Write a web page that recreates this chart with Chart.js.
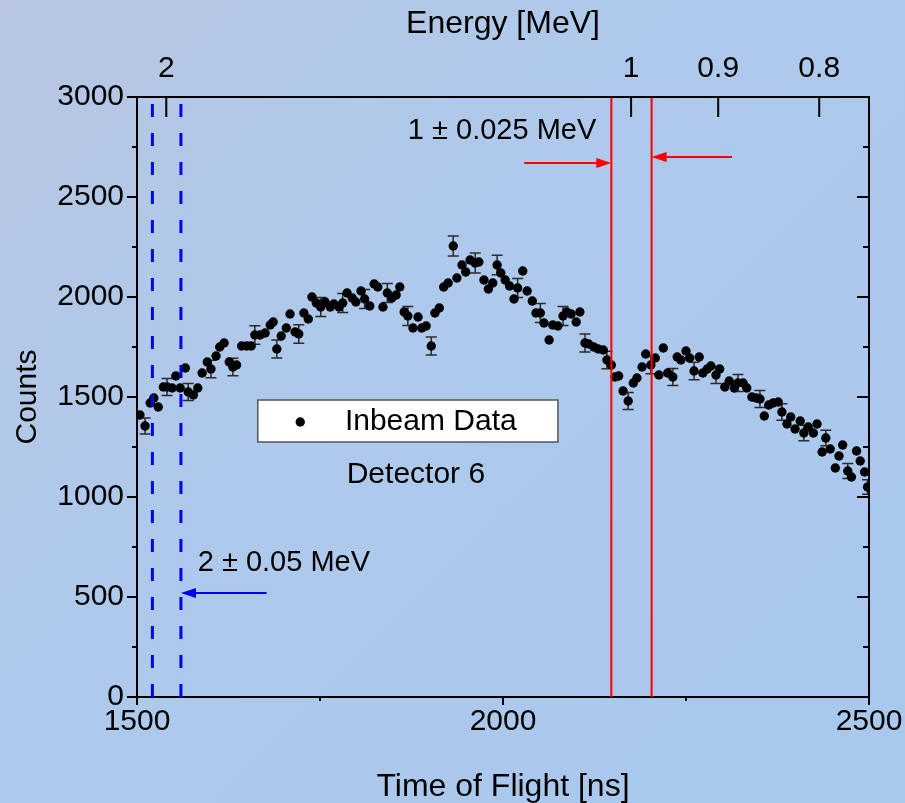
<!DOCTYPE html>
<html>
<head>
<meta charset="utf-8">
<script src="https://cdn.jsdelivr.net/npm/chart.js@4/dist/chart.umd.min.js"></script>
<style>
    html, body { margin: 0; padding: 0; }
    body {
        width: 905px; height: 803px; overflow: hidden;
        background: linear-gradient(135deg, #b8c6e2 0%, #aec9eb 40%, #a8c8ee 100%);
    }
</style>
</head>
<body>
<canvas id="tof-chart" width="905" height="803"></canvas>
<script>
// time of flight [ns] and counts
const tof = [
    1504, 1511, 1518, 1523, 1529, 1536, 1541, 1548, 1553, 1559,
    1566, 1570, 1577, 1583, 1589, 1596, 1601, 1608, 1613, 1619,
    1626, 1631, 1636, 1643, 1650, 1656, 1661, 1668, 1675, 1682,
    1686, 1691, 1697, 1704, 1709, 1716, 1721, 1728, 1734, 1739,
    1745, 1751, 1757, 1764, 1769, 1776, 1781, 1787, 1794, 1799,
    1806, 1811, 1818, 1824, 1829, 1836, 1842, 1848, 1854, 1859,
    1865, 1870, 1877, 1884, 1889, 1895, 1902, 1907, 1913, 1919,
    1925, 1932, 1937, 1944, 1949, 1955, 1962, 1967, 1974, 1980,
    1986, 1992, 1997, 2003, 2009, 2015, 2020, 2027, 2033, 2040,
    2045, 2051, 2056, 2063, 2068, 2075, 2082, 2087, 2093, 2100,
    2105, 2112, 2117, 2124, 2130, 2137, 2142, 2148, 2153, 2158,
    2164, 2171, 2178, 2183, 2190, 2195, 2202, 2208, 2213, 2219,
    2225, 2232, 2238, 2243, 2250, 2255, 2261, 2268, 2273, 2279,
    2284, 2291, 2296, 2303, 2309, 2316, 2321, 2328, 2333, 2340,
    2346, 2351, 2357, 2363, 2369, 2376, 2381, 2388, 2393, 2399,
    2406, 2411, 2417, 2424, 2429, 2436, 2441, 2447, 2454, 2459,
    2464, 2471, 2476, 2483, 2488, 2494, 2498
];
const counts = [
    1410, 1355, 1470, 1495, 1450, 1550, 1550, 1545, 1605, 1545,
    1645, 1525, 1510, 1545, 1620, 1675, 1640, 1705, 1750, 1770,
    1675, 1650, 1660, 1755, 1755, 1755, 1810, 1810, 1820, 1860,
    1875, 1740, 1805, 1845, 1915, 1825, 1815, 1920, 1890, 2000,
    1970, 1950, 1975, 1950, 1965, 1950, 1970, 2020, 1995, 1975,
    2030, 1990, 1955, 2065, 2050, 1950, 2020, 1995, 2010, 2050,
    1925, 1905, 1845, 1900, 1845, 1855, 1755, 1920, 1945, 2050,
    2070, 2255, 2095, 2160, 2125, 2185, 2170, 2175, 2085, 2040,
    2070, 2160, 2120, 2085, 2055, 1990, 2045, 2130, 2030, 1980,
    1920, 1920, 1870, 1785, 1860, 1855, 1905, 1925, 1915, 1875,
    1925, 1770, 1765, 1750, 1740, 1735, 1685, 1660, 1600, 1605,
    1530, 1480, 1570, 1595, 1650, 1715, 1660, 1695, 1610, 1745,
    1620, 1600, 1700, 1685, 1730, 1695, 1630, 1700, 1620, 1640,
    1655, 1610, 1640, 1550, 1580, 1545, 1570, 1570, 1545, 1500,
    1495, 1490, 1405, 1460, 1470, 1475, 1425, 1365, 1400, 1340,
    1380, 1320, 1350, 1320, 1365, 1225, 1295, 1240, 1145, 1205,
    1260, 1130, 1100, 1230, 1180, 1125, 1050
];
// half length of the error bars, shown on every fifth point (2nd, 7th, 12th ...)
const errHalf = [
    40, 42, 42, 44, 44, 46, 45, 46, 47, 48,
    48, 48, 47, 45, 50, 50, 49, 48, 47, 47,
    45, 44, 42, 44, 43, 44, 43, 42, 42, 41,
    39, 39, 37, 36
];

// top axis: energy [MeV] and the flight time where it sits
const energyLabels = ['2', '1', '0.9', '0.8'];
const energyTof = [1540, 2175, 2294, 2432];

// windows 1 +- 0.025 MeV (red) and 2 +- 0.05 MeV (blue)
const redWindow = [2148, 2203];
const blueWindow = [1521, 1560];

const FONT = "'Liberation Sans', Arial, sans-serif";
Chart.defaults.font.family = FONT;
Chart.defaults.color = '#000';

function arrow(ctx, x1, y1, x2, y2, color) {
    const dir = Math.sign(x2 - x1);
    ctx.strokeStyle = color;
    ctx.fillStyle = color;
    ctx.lineWidth = 2;
    ctx.beginPath();
    ctx.moveTo(x1, y1);
    ctx.lineTo(x2 - dir * 10, y2);
    ctx.stroke();
    ctx.beginPath();
    ctx.moveTo(x2, y2);
    ctx.lineTo(x2 - dir * 15, y2 - 5);
    ctx.lineTo(x2 - dir * 15, y2 + 5);
    ctx.closePath();
    ctx.fill();
}

const overlay = {
    id: 'overlay',
    beforeDatasetsDraw(chart) {
        const { ctx, chartArea: a, scales: { x, y } } = chart;
        ctx.save();
        ctx.beginPath();
        ctx.rect(a.left, a.top, a.right - a.left, a.bottom - a.top);
        ctx.clip();
        ctx.strokeStyle = '#2a2a2a';
        ctx.lineWidth = 1.5;
        let k = 0;
        tof.forEach((t, i) => {
            if (i % 5 !== 1) return;
            const e = errHalf[k++];
            const px = x.getPixelForValue(t);
            const y1 = y.getPixelForValue(counts[i] + e);
            const y2 = y.getPixelForValue(counts[i] - e);
            ctx.beginPath();
            ctx.moveTo(px, y1); ctx.lineTo(px, y2);
            ctx.moveTo(px - 5.5, y1); ctx.lineTo(px + 5.5, y1);
            ctx.moveTo(px - 5.5, y2); ctx.lineTo(px + 5.5, y2);
            ctx.stroke();
        });
        ctx.restore();
    },
    afterDraw(chart) {
        const { ctx, chartArea: a, scales: { x, y } } = chart;
        ctx.save();

        // frame on top and right
        ctx.strokeStyle = '#000';
        ctx.lineWidth = 2;
        ctx.beginPath();
        ctx.moveTo(a.left, a.top); ctx.lineTo(a.right, a.top); ctx.lineTo(a.right, a.bottom);
        ctx.stroke();

        // ticks
        ctx.beginPath();
        for (let v = 0; v <= 3000; v += 250) {
            const py = y.getPixelForValue(v);
            const major = v % 500 === 0;
            ctx.moveTo(a.left, py); ctx.lineTo(a.left - (major ? 10 : 5), py);
            ctx.moveTo(a.right, py); ctx.lineTo(a.right - (major ? 12 : 6), py);
        }
        for (let v = 1500; v <= 2500; v += 250) {
            const px = x.getPixelForValue(v);
            const major = v % 500 === 0;
            ctx.moveTo(px, a.bottom); ctx.lineTo(px, a.bottom + (major ? 8 : 4));
        }
        energyTof.forEach(t => {
            const px = x.getPixelForValue(t);
            ctx.moveTo(px, a.top); ctx.lineTo(px, a.top + 20);
        });
        ctx.stroke();

        // arrows and window labels
        arrow(ctx, x.getPixelForValue(2029), y.getPixelForValue(2670),
            x.getPixelForValue(redWindow[0]), y.getPixelForValue(2670), '#ff0000');
        arrow(ctx, x.getPixelForValue(2313), y.getPixelForValue(2700),
            x.getPixelForValue(redWindow[1]), y.getPixelForValue(2700), '#ff0000');
        arrow(ctx, x.getPixelForValue(1677), y.getPixelForValue(520),
            x.getPixelForValue(blueWindow[1]), y.getPixelForValue(520), '#0000ff');

        ctx.fillStyle = '#000';
        ctx.font = '29px ' + FONT;
        ctx.textBaseline = 'middle';
        ctx.textAlign = 'left';
        ctx.fillText('1 \u00b1 0.025 MeV', x.getPixelForValue(1870), y.getPixelForValue(2830));
        ctx.fillText('2 \u00b1 0.05 MeV', x.getPixelForValue(1583), y.getPixelForValue(670));

        // legend box
        const lx1 = x.getPixelForValue(1665), lx2 = x.getPixelForValue(2075);
        const ly1 = y.getPixelForValue(1485), ly2 = y.getPixelForValue(1275);
        ctx.fillStyle = '#fff';
        ctx.fillRect(lx1, ly1, lx2 - lx1, ly2 - ly1);
        ctx.strokeStyle = '#555';
        ctx.lineWidth = 1.5;
        ctx.strokeRect(lx1, ly1, lx2 - lx1, ly2 - ly1);
        ctx.fillStyle = '#000';
        ctx.beginPath();
        ctx.arc(x.getPixelForValue(1723), y.getPixelForValue(1375), 4.7, 0, Math.PI * 2);
        ctx.fill();
        ctx.font = '30px ' + FONT;
        ctx.fillText('Inbeam Data', x.getPixelForValue(1784), y.getPixelForValue(1378));
        ctx.textAlign = 'center';
        ctx.fillText('Detector 6', x.getPixelForValue(1881), y.getPixelForValue(1110));

        ctx.restore();
    }
};

const windowLine = (t, color, width, dash) => ({
    type: 'line',
    data: [{ x: t, y: 0 }, { x: t, y: 3000 }],
    borderColor: color,
    borderWidth: width,
    borderDash: dash,
    pointRadius: 0,
    order: 0
});

const plain = v => String(v);

new Chart(document.getElementById('tof-chart'), {
    type: 'scatter',
    data: {
        datasets: [
            {
                label: 'Inbeam Data',
                data: tof.map((t, i) => ({ x: t, y: counts[i] })),
                pointRadius: 4.7,
                pointBackgroundColor: '#000',
                pointBorderWidth: 0,
                order: 1
            },
            ...redWindow.map(t => windowLine(t, '#ff0000', 2, [])),
            ...blueWindow.map(t => windowLine(t, '#0000ff', 3, [13, 16]))
        ]
    },
    options: {
        responsive: false,
        animation: false,
        layout: { padding: { left: 0, right: 36, top: 0, bottom: 0 } },
        plugins: {
            legend: { display: false },
            tooltip: { enabled: false }
        },
        scales: {
            x: {
                type: 'linear',
                position: 'bottom',
                min: 1500,
                max: 2500,
                ticks: { stepSize: 500, font: { size: 30, lineHeight: 1 }, padding: 2, maxRotation: 0, callback: plain },
                grid: { display: false },
                border: { color: '#000', width: 2 },
                title: {
                    display: true, text: 'Time of Flight [ns]',
                    font: { size: 32, lineHeight: 1 }, padding: { top: 0, bottom: 0 }
                },
                afterFit(scale) { scale.height = 106; }
            },
            xTop: {
                type: 'linear',
                position: 'top',
                min: 1500,
                max: 2500,
                afterBuildTicks(scale) { scale.ticks = energyTof.map(v => ({ value: v })); },
                ticks: {
                    autoSkip: false, maxRotation: 0, padding: 5,
                    font: { size: 30, lineHeight: 1 },
                    callback: v => energyLabels[energyTof.indexOf(v)]
                },
                grid: { display: false },
                border: { display: false },
                title: {
                    display: true, text: 'Energy [MeV]',
                    font: { size: 32, lineHeight: 1 }, padding: { top: 8, bottom: 0 }
                },
                afterFit(scale) { scale.height = 97; }
            },
            y: {
                min: 0,
                max: 3000,
                ticks: { stepSize: 500, font: { size: 30, lineHeight: 1 }, padding: 5, callback: plain },
                grid: { display: false },
                border: { color: '#000', width: 2 },
                title: {
                    display: true, text: 'Counts',
                    font: { size: 30, lineHeight: 1 }, padding: { top: 13, bottom: 0 }
                },
                afterFit(scale) { scale.width = 137; }
            }
        }
    },
    plugins: [overlay]
});
</script>
</body>
</html>
